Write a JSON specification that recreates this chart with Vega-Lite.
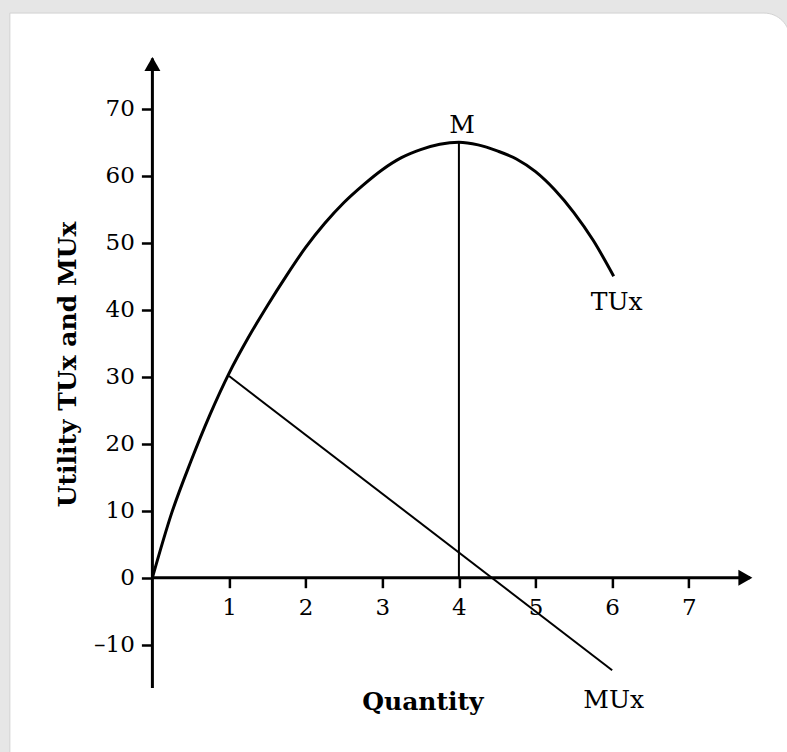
{
  "$schema": "https://vega.github.io/schema/vega-lite/v6.json",
  "autosize": {"type": "none"},
  "width": 600,
  "height": 631,
  "padding": {"left": 152.4, "top": 57, "right": 34.6, "bottom": 64},
  "background": "#e6e6e6",
  "config": {
    "view": {"stroke": null},
    "font": "DejaVu Serif",
    "text": {"font": "DejaVu Serif"}
  },
  "datasets": {
    "tu": [
      {"x": 0, "y": 0}, {"x": 0.25, "y": 9.6}, {"x": 0.5, "y": 17.3}, {"x": 0.75, "y": 24.3},
      {"x": 1.0, "y": 30.5}, {"x": 1.25, "y": 35.8}, {"x": 1.5, "y": 40.6}, {"x": 1.75, "y": 45.1},
      {"x": 2.0, "y": 49.3}, {"x": 2.25, "y": 52.9}, {"x": 2.5, "y": 56.0}, {"x": 2.75, "y": 58.6},
      {"x": 3.0, "y": 60.9}, {"x": 3.25, "y": 62.7}, {"x": 3.5, "y": 63.9}, {"x": 3.75, "y": 64.7},
      {"x": 4.0, "y": 65.0}, {"x": 4.25, "y": 64.6}, {"x": 4.5, "y": 63.7}, {"x": 4.75, "y": 62.5},
      {"x": 5.0, "y": 60.6}, {"x": 5.25, "y": 57.9}, {"x": 5.5, "y": 54.5}, {"x": 5.75, "y": 50.4},
      {"x": 6.02, "y": 45.0}
    ],
    "mu": [{"x": 1.0, "y": 30.1}, {"x": 6.0, "y": -13.8}],
    "rules": [
      {"x": 0, "y": -16.46, "x2": 0, "y2": 77.5, "w": "axis"},
      {"x": 0, "y": 0, "x2": 7.8, "y2": 0, "w": "axis"},
      {"x": 4, "y": 0, "x2": 4, "y2": 65, "w": "thin"}
    ],
    "arrows": [
      {"x": 0, "y": 77.72, "dir": "up"},
      {"x": 7.83, "y": 0, "dir": "right"}
    ],
    "labels": [
      {"x": 4.04, "y": 67.6, "text": "M"},
      {"x": 6.06, "y": 41.1, "text": "TUx"},
      {"x": 6.02, "y": -18.25, "text": "MUx"}
    ]
  },
  "layer": [
    {
      "data": {"values": [{}]},
      "mark": {"type": "rect", "fill": "white", "stroke": "#d2d2d2", "strokeWidth": 1, "cornerRadiusTopRight": 26},
      "encoding": {
        "x": {"datum": -1.86, "type": "quantitative", "scale": {"domain": [0, 7.83], "nice": false, "zero": false}},
        "x2": {"datum": 8.32},
        "y": {"datum": 84.28, "type": "quantitative", "scale": {"domain": [-16.46, 77.72], "nice": false, "zero": false}},
        "y2": {"datum": -30}
      }
    },
    {
      "data": {"name": "tu"},
      "mark": {"type": "line", "color": "black", "strokeWidth": 3, "interpolate": "monotone"},
      "encoding": {
        "x": {
          "field": "x", "type": "quantitative",
          "axis": {
            "title": "Quantity", "values": [1, 2, 3, 4, 5, 6, 7], "format": "d", "domain": false, "grid": false, "zindex": 1,
            "offset": -110.3, "tickSize": 10, "tickWidth": 2.5, "tickColor": "black",
            "labelFont": "DejaVu Serif", "labelFontSize": 23, "labelColor": "black", "labelPadding": 9,
            "titleFont": "DejaVu Serif", "titleFontSize": 25, "titleFontWeight": "bold", "titleColor": "black",
            "titleX": 270, "titleY": 124, "titleBaseline": "middle", "titleAlign": "center", "titleAnchor": null
          }
        },
        "y": {
          "field": "y", "type": "quantitative",
          "axis": {
            "title": "Utility TUx and MUx", "values": [-10, 0, 10, 20, 30, 40, 50, 60, 70], "domain": false, "grid": false, "zindex": 1,
            "tickSize": 11, "tickWidth": 2.5, "tickColor": "black",
            "labelFont": "DejaVu Serif", "labelFontSize": 23, "labelColor": "black", "labelPadding": 7,
            "labelExpr": "datum.value < 0 ? '\u2013' + abs(datum.value) : datum.label",
            "titleFont": "DejaVu Serif", "titleFontSize": 25, "titleFontWeight": "bold", "titleColor": "black",
            "titleX": -84.4, "titleY": 307, "titleAngle": -90, "titleBaseline": "middle", "titleAlign": "center", "titleAnchor": null
          }
        }
      }
    },
    {
      "data": {"name": "mu"},
      "mark": {"type": "line", "color": "black", "strokeWidth": 2},
      "encoding": {
        "x": {"field": "x", "type": "quantitative"},
        "y": {"field": "y", "type": "quantitative"}
      }
    },
    {
      "data": {"name": "rules"},
      "mark": {"type": "rule", "color": "black"},
      "encoding": {
        "x": {"field": "x", "type": "quantitative"},
        "y": {"field": "y", "type": "quantitative"},
        "x2": {"field": "x2"},
        "y2": {"field": "y2"},
        "strokeWidth": {"field": "w", "type": "nominal", "scale": {"domain": ["axis", "thin"], "range": [3, 2]}, "legend": null}
      }
    },
    {
      "data": {"name": "arrows"},
      "mark": {"type": "point", "filled": true, "color": "black", "opacity": 1, "size": 256, "strokeWidth": 0},
      "encoding": {
        "x": {"field": "x", "type": "quantitative"},
        "y": {"field": "y", "type": "quantitative"},
        "shape": {"field": "dir", "type": "nominal", "scale": {"domain": ["up", "right"], "range": ["M0,0L-1,1.75L1,1.75Z", "M0,0L-1.75,-1L-1.75,1Z"]}, "legend": null}
      }
    },
    {
      "data": {"name": "labels"},
      "mark": {"type": "text", "font": "DejaVu Serif", "fontSize": 25, "color": "black", "align": "center", "baseline": "middle"},
      "encoding": {
        "x": {"field": "x", "type": "quantitative"},
        "y": {"field": "y", "type": "quantitative"},
        "text": {"field": "text", "type": "nominal"}
      }
    }
  ]
}
